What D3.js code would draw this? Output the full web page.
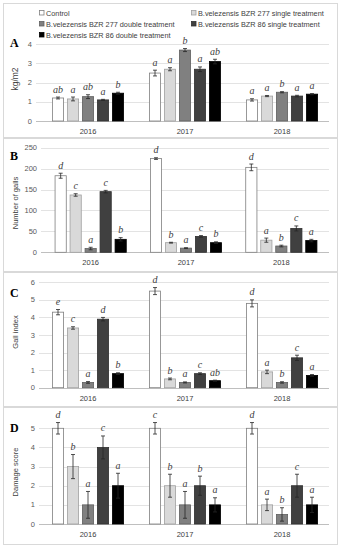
<!DOCTYPE html>
<html lang="en">
  <head>
    <meta charset="UTF-8" />
    <title>Bacillus velezensis field trials</title>
    <script src="https://d3js.org/d3.v7.min.js"></script>
    <style>
      body { margin: 0; background: #fff; }
      svg { display: block; }
    </style>
  </head>
  <body>
    <svg width="344" height="550"></svg>
    <script>
      // Categories
      const years = ["2016", "2017", "2018"];
      const treatments = [
        "Control",
        "B.velezensis BZR 277 single treatment",
        "B.velezensis BZR 277 double treatment",
        "B.velezensis BZR 86 single treatment",
        "B.velezensis BZR 86 double treatment",
      ];
      const fills = ["#ffffff", "#d9d9d9", "#808080", "#404040", "#000000"];
      const strokes = ["#7f7f7f", "#a0a0a0", "#606060", "#303030", "#000000"];

      // A: yield, kg/m2 (per year, per treatment)
      const yieldVals = [[1.2, 1.15, 1.27, 1.1, 1.45], [2.5, 2.7, 3.7, 2.7, 3.1], [1.1, 1.3, 1.5, 1.3, 1.4]];
      const yieldErr = [[0.05, 0.1, 0.1, 0.03, 0.05], [0.15, 0.08, 0.08, 0.12, 0.12], [0.06, 0.03, 0.03, 0.04, 0.03]];
      const yieldLetters = [["ab", "a", "ab", "a", "b"], ["a", "a", "b", "a", "ab"], ["a", "a", "b", "a", "a"]];

      // B: number of galls
      const gallsVals = [[183, 137, 9, 145, 31], [224, 23, 10, 38, 23], [203, 29, 15, 57, 28]];
      const gallsErr = [[6, 3, 3, 3, 4], [2, 1, 1, 2, 2], [8, 5, 2, 6, 3]];
      const gallsLetters = [["d", "c", "a", "c", "b"], ["d", "b", "a", "c", "b"], ["d", "a", "b", "c", "a"]];

      // C: gall index
      const indexVals = [[4.3, 3.4, 0.3, 3.9, 0.8], [5.5, 0.5, 0.3, 0.8, 0.4], [4.8, 0.9, 0.3, 1.7, 0.7]];
      const indexErr = [[0.15, 0.07, 0.05, 0.1, 0.05], [0.2, 0.05, 0.03, 0.05, 0.03], [0.2, 0.1, 0.04, 0.15, 0.05]];
      const indexLetters = [["e", "c", "a", "d", "b"], ["d", "b", "a", "c", "ab"], ["d", "a", "b", "c", "a"]];

      // D: damage score
      const damageVals = [[5, 3, 1, 4, 2], [5, 2, 1, 2, 1], [5, 1, 0.5, 2, 1]];
      const damageErr = [[0.3, 0.63, 0.7, 0.6, 0.65], [0.3, 0.6, 0.7, 0.5, 0.37], [0.3, 0.3, 0.35, 0.6, 0.4]];
      const damageLetters = [["d", "b", "a", "c", "a"], ["c", "b", "a", "b", "a"], ["d", "a", "b", "c", "a"]];

      const panels = [
        { tag: "A", title: "kg/m2", vals: yieldVals, err: yieldErr, letters: yieldLetters,
          max: 4, step: 1, box: [3, 137], y0: 121, y1: 44.3, left: 39.5, right: 330.5, gridL: 36, tagY: 47, titleY: 79, titleSize: 8.5 },
        { tag: "B", title: "Number of galls", vals: gallsVals, err: gallsErr, letters: gallsLetters,
          max: 250, step: 50, box: [138, 271], y0: 252.3, y1: 147.7, left: 43, right: 329, gridL: 41, tagY: 160, titleY: 203, titleSize: 7.5 },
        { tag: "C", title: "Gall index", vals: indexVals, err: indexErr, letters: indexLetters,
          max: 6, step: 1, box: [272, 406], y0: 387.7, y1: 282.3, left: 39.5, right: 330.5, gridL: 39, tagY: 297, titleY: 332, titleSize: 7.5 },
        { tag: "D", title: "Damage score", vals: damageVals, err: damageErr, letters: damageLetters,
          max: 5, step: 1, box: [407, 544], y0: 524, y1: 428.3, left: 39.5, right: 330.5, gridL: 39, tagY: 432, titleY: 472, titleSize: 7.5 },
      ];

      const svg = d3.select("svg");
      const sans = "'Liberation Sans', Arial, sans-serif";
      const serif = "'Liberation Serif', 'Times New Roman', serif";

      panels.forEach((p) => {
        const g = svg.append("g");

        // panel frame
        g.append("rect")
          .attr("x", 3.5).attr("y", p.box[0] + 0.5)
          .attr("width", 334).attr("height", p.box[1] - p.box[0])
          .attr("fill", "none").attr("stroke", "#d9d9d9").attr("stroke-width", 1);

        const y = d3.scaleLinear().domain([0, p.max]).range([p.y0, p.y1]);
        const x0 = d3.scaleBand().domain(years).range([p.left, p.right]);
        const x1 = d3.scaleBand().domain(d3.range(5))
          .range([x0.bandwidth() / 2 - 36, x0.bandwidth() / 2 + 36]).paddingInner(0.2);

        const ticks = d3.range(0, p.max + p.step / 2, p.step);

        // gridlines
        g.selectAll(".grid").data(ticks).enter().append("line")
          .attr("x1", p.gridL).attr("x2", 329)
          .attr("y1", (d) => Math.round(y(d)) + 0.5).attr("y2", (d) => Math.round(y(d)) + 0.5)
          .attr("stroke", (d) => (d === 0 ? "#bfbfbf" : "#e3e3e3"))
          .attr("stroke-width", 1);

        // y axis labels
        g.selectAll(".tick").data(ticks).enter().append("text")
          .attr("x", p.gridL - 4).attr("y", (d) => y(d) + 2.6)
          .attr("text-anchor", "end")
          .attr("font-family", sans).attr("font-size", 7.5).attr("fill", "#595959")
          .text((d) => d);

        // y title
        g.append("text")
          .attr("transform", `translate(18,${p.titleY}) rotate(-90)`)
          .attr("text-anchor", "middle")
          .attr("font-family", sans).attr("font-size", p.titleSize).attr("fill", "#404040")
          .text(p.title);

        // panel tag
        g.append("text")
          .attr("x", 10).attr("y", p.tagY)
          .attr("font-family", serif).attr("font-weight", "bold").attr("font-size", 12).attr("fill", "#000")
          .text(p.tag);

        // x labels
        g.selectAll(".xl").data(years).enter().append("text")
          .attr("x", (d) => x0(d) + x0.bandwidth() / 2).attr("y", p.y0 + 13)
          .attr("text-anchor", "middle")
          .attr("font-family", sans).attr("font-size", 7.5).attr("fill", "#404040")
          .text((d) => d);

        // bars
        const rows = [];
        years.forEach((yr, i) => {
          treatments.forEach((t, j) => {
            rows.push({ yr, j, v: p.vals[i][j], e: p.err[i][j], l: p.letters[i][j] });
          });
        });

        const bx = (d) => x0(d.yr) + x1(d.j);
        const bw = x1.bandwidth();

        g.selectAll(".bar").data(rows).enter().append("rect")
          .attr("x", (d) => bx(d) + 0.4).attr("y", (d) => y(d.v))
          .attr("width", bw - 0.8).attr("height", (d) => y(0) - y(d.v))
          .attr("fill", (d) => fills[d.j]).attr("stroke", (d) => strokes[d.j]).attr("stroke-width", 0.8);

        // error bars
        const eb = g.selectAll(".err").data(rows).enter().append("g").attr("stroke", "#262626").attr("stroke-width", 0.8);
        eb.append("line")
          .attr("x1", (d) => bx(d) + bw / 2).attr("x2", (d) => bx(d) + bw / 2)
          .attr("y1", (d) => y(d.v + d.e)).attr("y2", (d) => y(Math.max(0, d.v - d.e)));
        eb.append("line")
          .attr("x1", (d) => bx(d) + bw / 2 - 2).attr("x2", (d) => bx(d) + bw / 2 + 2)
          .attr("y1", (d) => y(d.v + d.e)).attr("y2", (d) => y(d.v + d.e));
        eb.append("line")
          .attr("x1", (d) => bx(d) + bw / 2 - 2).attr("x2", (d) => bx(d) + bw / 2 + 2)
          .attr("y1", (d) => y(Math.max(0, d.v - d.e))).attr("y2", (d) => y(Math.max(0, d.v - d.e)));

        // significance letters
        g.selectAll(".let").data(rows).enter().append("text")
          .attr("x", (d) => bx(d) + bw / 2).attr("y", (d) => y(d.v + d.e) - 4.5)
          .attr("text-anchor", "middle")
          .attr("font-family", serif).attr("font-style", "italic").attr("font-size", 10).attr("fill", "#404040")
          .text((d) => d.l);
      });

      // legend (two columns, row-wise)
      const legend = svg.append("g");
      treatments.forEach((t, i) => {
        const col = i % 2;
        const row = Math.floor(i / 2);
        const lx = col === 0 ? 39 : 191;
        const ly = 13 + row * 11;
        legend.append("rect")
          .attr("x", lx + 0.5).attr("y", ly - 2.5).attr("width", 4.5).attr("height", 4.5)
          .attr("fill", fills[i]).attr("stroke", strokes[i]).attr("stroke-width", 0.8);
        legend.append("text")
          .attr("x", lx + 7).attr("y", ly + 2.6)
          .attr("font-family", sans).attr("font-size", 7.3).attr("fill", "#404040")
          .text(t);
      });
    </script>
  </body>
</html>
